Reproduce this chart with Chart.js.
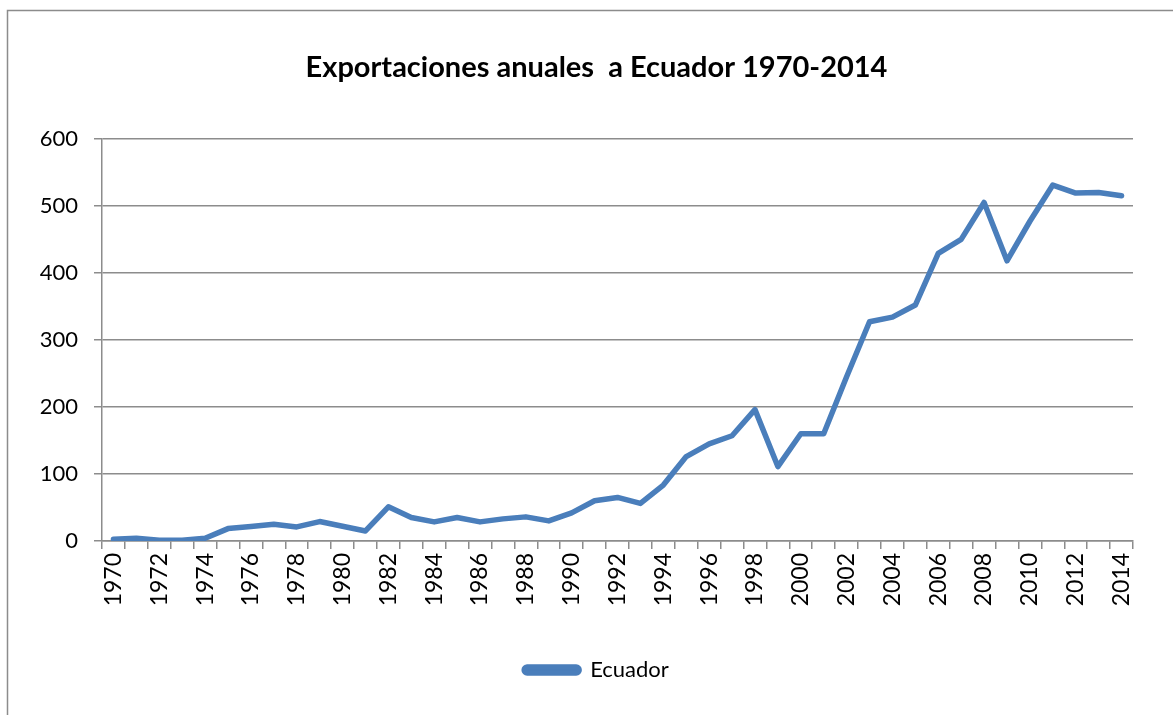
<!DOCTYPE html>
<html>
<head>
<meta charset="utf-8">
<script src="https://cdn.jsdelivr.net/npm/chart.js@4.4.0/dist/chart.umd.min.js"></script>
<style>
  html, body { margin: 0; padding: 0; background: #fff; }
  #wrap { position: relative; width: 1173px; height: 715px; }
</style>
</head>
<body>
<div id="wrap"><canvas id="chart" width="1173" height="715"></canvas></div>
<script>
const years = [];
for (let y = 1970; y <= 2014; y++) years.push(String(y));

const ecuador = [
  2.5, 4, 1, 1, 4, 18.5, 21.5, 25, 21, 29,
  22, 15, 51, 35, 28.5, 35, 28.5, 33, 36, 30,
  42, 60, 65, 56, 83.5, 126, 145, 157, 196, 111,
  160, 160, 245, 327, 334, 352, 429, 450, 505, 418,
  477, 531, 519, 520, 515
];

const yTicks = [0, 100, 200, 300, 400, 500, 600];

const FONT = 'Lato, "Open Sans", sans-serif';
const BLUE = '#4a7ebb';
const GREY = '#8c8c8c';

// outer frame of the chart object
const framePlugin = {
  id: 'frame',
  afterDraw(chart) {
    const ctx = chart.ctx;
    ctx.save();
    ctx.strokeStyle = GREY;
    ctx.lineWidth = 1.5;
    ctx.beginPath();
    ctx.moveTo(7.5, 715);
    ctx.lineTo(7.5, 10.5);
    ctx.lineTo(1173, 10.5);
    ctx.stroke();
    ctx.restore();
  }
};

const ctx = document.getElementById('chart').getContext('2d');
new Chart(ctx, {
  type: 'line',
  data: {
    labels: years,
    datasets: [{
      label: 'Ecuador',
      data: ecuador,
      borderColor: BLUE,
      backgroundColor: BLUE,
      borderWidth: 5.5,
      pointRadius: 0,
      tension: 0,
      borderCapStyle: 'round',
      borderJoinStyle: 'round'
    }]
  },
  options: {
    responsive: false,
    animation: false,
    layout: { padding: { left: 20, right: 0, top: 0, bottom: 24 } },
    plugins: {
      title: {
        display: true,
        text: 'Exportaciones anuales  a Ecuador 1970-2014',
        color: '#000',
        font: { family: FONT, size: 29, weight: 'bold' },
        padding: { top: 50, bottom: 54 }
      },
      legend: {
        position: 'bottom',
        labels: {
          color: '#000',
          font: { family: FONT, size: 22 },
          boxWidth: 55,
          boxHeight: 6,
          useBorderRadius: true,
          borderRadius: 3,
          padding: 4
        }
      },
      tooltip: { enabled: false }
    },
    scales: {
      x: {
        offset: true,
        grid: {
          offset: true,
          drawOnChartArea: false,
          drawTicks: true,
          tickLength: 8,
          color: GREY,
          lineWidth: 1.5
        },
        border: { color: GREY, width: 1.5 },
        ticks: {
          autoSkip: false,
          minRotation: 90,
          maxRotation: 90,
          padding: 4,
          color: '#000',
          font: { family: FONT, size: 23 },
          callback: function (v, i) { return i % 2 === 0 ? years[i] : ''; }
        },
        afterFit(scale) { scale.height = 114; }
      },
      y: {
        min: 0,
        max: 600,
        afterBuildTicks(scale) { scale.ticks = yTicks.map(v => ({ value: v })); },
        grid: { color: GREY, lineWidth: 1.5, tickLength: 8 },
        border: { color: GREY, width: 1.5 },
        ticks: {
          padding: 16,
          color: '#000',
          font: { family: FONT, size: 22 }
        },
        afterFit(scale) { scale.width = 82; }
      },
      // empty right-hand space so the plot ends where the reference's does
      spacer: {
        type: 'linear',
        position: 'right',
        display: true,
        grid: { display: false },
        border: { display: false },
        ticks: { display: false },
        afterFit(scale) { scale.width = 40; }
      }
    }
  },
  plugins: [framePlugin]
});
</script>
</body>
</html>
